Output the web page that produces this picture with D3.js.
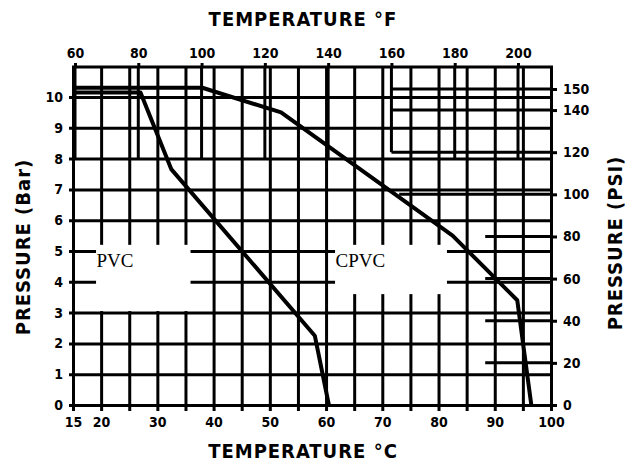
<!DOCTYPE html>
<html lang="en">
<head>
<meta charset="UTF-8">
<title>PVC / CPVC pressure vs temperature</title>
<script src="https://d3js.org/d3.v7.min.js"></script>
<style>
  body { margin: 0; background: #fff; }
  .axis text { font-family: "DejaVu Sans Condensed", "DejaVu Sans", sans-serif; font-stretch: condensed; font-weight: bold; font-size: 14px; fill: #000; }
  .axis line { stroke: #000; stroke-width: 3; }
  .axis path { display: none; }
  .grid line { stroke: #000; stroke-width: 3; }
  .title { font-family: "DejaVu Sans Condensed", "DejaVu Sans", sans-serif; font-stretch: condensed; font-weight: bold; font-size: 20px; letter-spacing: 1px; }
  .curve { fill: none; stroke: #000; stroke-width: 4; stroke-linejoin: round; }
  .lbl { font-family: "Liberation Serif", "DejaVu Serif", serif; font-size: 19px; }
</style>
</head>
<body>
<script>
// data
var tempC = [15, 20, 25, 30, 35, 40, 45, 50, 55, 60, 65, 70, 75, 80, 85, 90, 95, 100];
var tempCLabels = [15, 20, 30, 40, 50, 60, 70, 80, 90, 100];
var tempF = [60, 80, 100, 120, 140, 160, 180, 200];
var bar = [0, 1, 2, 3, 4, 5, 6, 7, 8, 9, 10];
var psi = [0, 20, 40, 60, 80, 100, 120, 140, 150];

var pvcTemp = [15, 27, 32.5, 58, 60.5];
var pvcBar  = [10.15, 10.15, 7.65, 2.25, 0];
var cpvcTemp = [15, 38, 52, 82.5, 94, 96.5];
var cpvcBar  = [10.3, 10.3, 9.5, 5.5, 3.4, 0];

// extra partial grid lines (psi)
var psiUpper = [120, 140, 150];
var psiMid = [100];
var psiLower = [20, 40, 60, 80];

var width = 633, height = 467;
var plotTop = 67;

var svg = d3.select("body").append("svg")
  .attr("width", width).attr("height", height);

var xC = d3.scaleLinear().domain([15, 100]).range([73, 551]);
var xF = d3.scaleLinear().domain([60, 200]).range([75, 518]);
var yBar = d3.scaleLinear().domain([0, 10]).range([405, 97]);
var yPsi = d3.scaleLinear().domain([0, 150]).range([405, 89]);

// vertical C grid + bottom labels
var xAxis = d3.axisBottom(xC)
  .tickValues(tempC)
  .tickSize(-(411 - plotTop))
  .tickPadding(6)
  .tickFormat(function(d) { return tempCLabels.indexOf(d) >= 0 ? d : ""; });
svg.append("g").attr("class", "axis")
  .attr("transform", "translate(0,411)")
  .call(xAxis);

// horizontal bar grid + left labels
var yAxis = d3.axisLeft(yBar)
  .tickValues(bar)
  .tickSize(-(xC(100) - 69))
  .tickPadding(6);
svg.append("g").attr("class", "axis")
  .attr("transform", "translate(69,0)")
  .call(yAxis);

// top frame line + F axis
svg.append("g").attr("class", "grid")
  .append("line")
  .attr("x1", xC(15) - 1).attr("x2", xC(100) + 2)
  .attr("y1", plotTop).attr("y2", plotTop);

var fAxis = d3.axisTop(xF).tickValues(tempF).tickSize(4).tickPadding(5);
svg.append("g").attr("class", "axis")
  .attr("transform", "translate(0," + plotTop + ")")
  .call(fAxis);

// F verticals down to 8 bar (160F stops at 120 psi)
svg.append("g").attr("class", "grid")
  .selectAll("line").data(tempF).enter().append("line")
  .attr("x1", function(d) { return xF(d); })
  .attr("x2", function(d) { return xF(d); })
  .attr("y1", plotTop)
  .attr("y2", function(d) { return d == 160 ? yPsi(120) : yBar(8); });

// right psi axis
var psiAxis = d3.axisRight(yPsi).tickValues(psi).tickSize(6).tickPadding(6);
svg.append("g").attr("class", "axis")
  .attr("transform", "translate(" + xC(100) + ",0)")
  .call(psiAxis);

var psiGrid = svg.append("g").attr("class", "grid");
function psiLines(vals, fromX) {
  psiGrid.selectAll(null).data(vals).enter().append("line")
    .attr("x1", fromX).attr("x2", xC(100))
    .attr("y1", function(d) { return yPsi(d); })
    .attr("y2", function(d) { return yPsi(d); });
}
psiLines(psiUpper, xF(160));
psiLines(psiMid, xC(73));
psiLines(psiLower, xC(88.3));

// blank boxes behind the material labels
var boxes = [
  { name: "PVC", t0: 19.1, t1: 35.9, p0: 3.05, p1: 5.2 },
  { name: "CPVC", t0: 61.6, t1: 81.5, p0: 3.6, p1: 5.2 }
];
svg.selectAll(".box").data(boxes).enter().append("rect")
  .attr("class", "box")
  .attr("x", function(d) { return xC(d.t0); })
  .attr("width", function(d) { return xC(d.t1) - xC(d.t0); })
  .attr("y", function(d) { return yBar(d.p1); })
  .attr("height", function(d) { return yBar(d.p0) - yBar(d.p1); })
  .attr("fill", "#fff");

svg.selectAll(".lbl").data(boxes).enter().append("text")
  .attr("class", "lbl")
  .attr("x", function(d) { return xC(d.t0) + 0.5; })
  .attr("y", yBar(5) + 16)
  .text(function(d) { return d.name; });

// curves
var line = d3.line()
  .x(function(d) { return xC(d[0]); })
  .y(function(d) { return yBar(d[1]); });

svg.append("path").attr("class", "curve")
  .attr("d", line(d3.zip(pvcTemp, pvcBar)));
svg.append("path").attr("class", "curve")
  .attr("d", line(d3.zip(cpvcTemp, cpvcBar)));

// titles
svg.append("text").attr("class", "title")
  .attr("x", 303).attr("y", 26).attr("text-anchor", "middle")
  .text("TEMPERATURE °F");
svg.append("text").attr("class", "title")
  .attr("x", 303).attr("y", 458).attr("text-anchor", "middle")
  .text("TEMPERATURE °C");
svg.append("text").attr("class", "title")
  .attr("transform", "translate(30,247) rotate(-90)")
  .attr("text-anchor", "middle")
  .text("PRESSURE  (Bar)");
svg.append("text").attr("class", "title")
  .attr("transform", "translate(622,243) rotate(-90)")
  .attr("text-anchor", "middle")
  .text("PRESSURE  (PSI)");
</script>
</body>
</html>
